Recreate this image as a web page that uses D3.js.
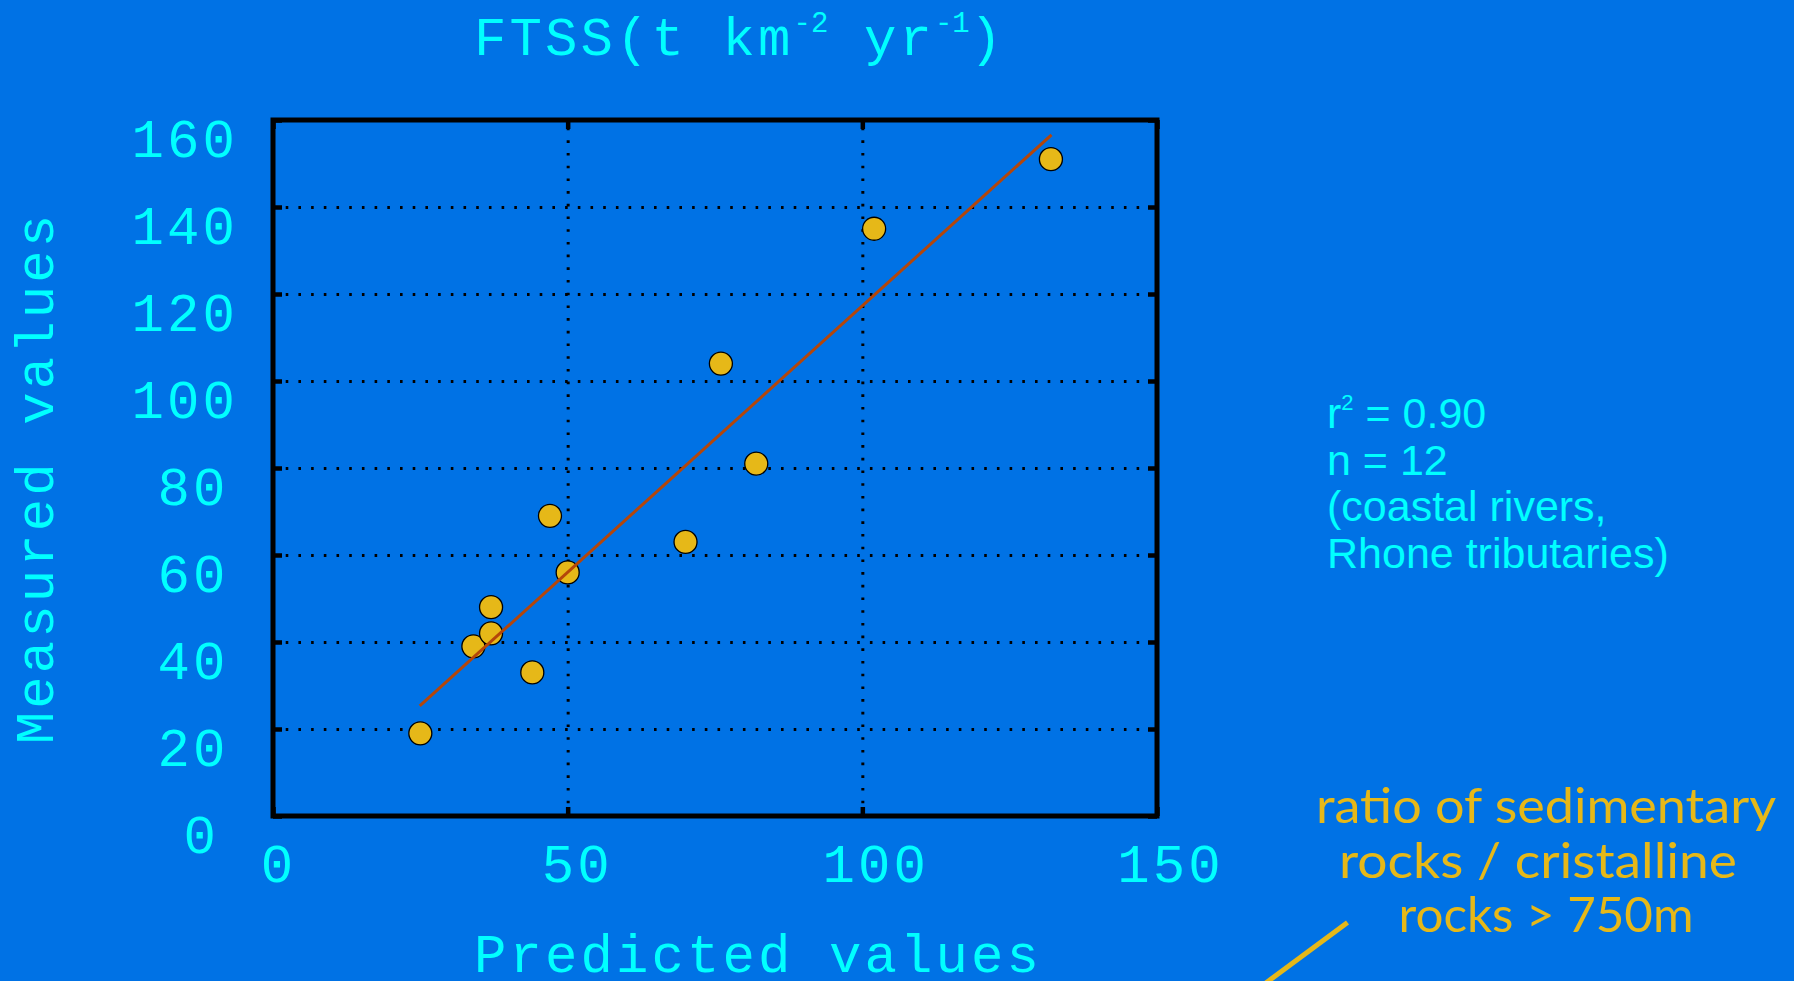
<!DOCTYPE html>
<html>
<head>
<meta charset="utf-8">
<script src="https://cdn.jsdelivr.net/npm/d3@7"></script>
<style>
html, body { margin: 0; padding: 0; background: #0072e5; overflow: hidden; }
svg { display: block; }
</style>
</head>
<body>
<svg width="1794" height="981"></svg>
<script>
// Values.

var predicted = [25, 34, 37, 37, 44, 47, 50, 70, 76, 82, 102, 132];
var measured  = [19, 39, 42, 48, 33, 69, 56, 63, 104, 81, 135, 151];
var fitX = [24.9, 132.1];
var fitY = [25.3, 156.6];
var xTicks = [0, 50, 100, 150];
var yTicks = [0, 20, 40, 60, 80, 100, 120, 140, 160];
var statLines = ['n = 12', '(coastal rivers,', 'Rhone tributaries)'];
var noteLines = ['ratio of sedimentary', 'rocks / cristalline', 'rocks > 750m'];
var noteWidths = [460, 398, 295];

var cyan = '#00ffff';
var gold = '#e6b818';
var mono = '"Liberation Mono", "Courier New", monospace';

// Select the SVG and set up the plot box.

var svg = d3.select('svg');
var margin = {top: 120, right: 637, bottom: 165, left: 273};
var width = svg.attr('width') - margin.left - margin.right;
var height = svg.attr('height') - margin.top - margin.bottom;
var graphic = svg.append('g').attr('transform', 'translate(' + margin.left + ',' + margin.top + ')');

var x = d3.scaleLinear().domain([0, 150]).range([0, width]);
var y = d3.scaleLinear().domain([0, 160]).range([height, 0]);

// Dotted grid.

var inner = function(v, i, a) { return i > 0 && i < a.length - 1; };

graphic.append('g')
 .attr('class', 'grid')
 .call(d3.axisLeft(y).tickValues(yTicks.filter(inner)).tickSize(-width).tickFormat(''));

graphic.append('g')
 .attr('class', 'grid')
 .attr('transform', 'translate(0,' + height + ')')
 .call(d3.axisBottom(x).tickValues(xTicks.filter(inner)).tickSize(-height).tickFormat(''));

graphic.selectAll('.grid .domain').remove();
graphic.selectAll('.grid line')
 .attr('stroke', '#000')
 .attr('stroke-width', 3)
 .attr('stroke-dasharray', '2.6,10.1');

// Points and the fitted line.

graphic.append('g')
 .selectAll('circle')
 .data(predicted)
 .enter().append('circle')
 .attr('cx', function(d) { return x(d); })
 .attr('cy', function(d, i) { return y(measured[i]); })
 .attr('r', 11.5)
 .attr('fill', gold)
 .attr('stroke', '#000')
 .attr('stroke-width', 1.3);

var line = d3.line()
 .x(function(d) { return x(d); })
 .y(function(d, i) { return y(fitY[i]); });

graphic.append('path')
 .attr('d', line(fitX))
 .attr('fill', 'none')
 .attr('stroke', '#b4460a')
 .attr('stroke-width', 3);

// Frame with inward ticks on all four sides.

graphic.append('rect')
 .attr('width', width)
 .attr('height', height)
 .attr('fill', 'none')
 .attr('stroke', '#000')
 .attr('stroke-width', 5);

var tickLen = -9;
graphic.append('g').attr('class', 'ticks')
 .call(d3.axisLeft(y).tickValues(yTicks).tickSize(tickLen).tickFormat(''));
graphic.append('g').attr('class', 'ticks')
 .attr('transform', 'translate(' + width + ',0)')
 .call(d3.axisRight(y).tickValues(yTicks).tickSize(tickLen).tickFormat(''));
graphic.append('g').attr('class', 'ticks')
 .attr('transform', 'translate(0,' + height + ')')
 .call(d3.axisBottom(x).tickValues(xTicks).tickSize(tickLen).tickFormat(''));
graphic.append('g').attr('class', 'ticks')
 .call(d3.axisTop(x).tickValues(xTicks).tickSize(tickLen).tickFormat(''));
graphic.selectAll('.ticks .domain').remove();
graphic.selectAll('.ticks line').attr('stroke', '#000').attr('stroke-width', 4.5);

// Tick labels.

var xAxis = graphic.append('g')
 .attr('class', 'labels')
 .attr('transform', 'translate(0,' + height + ')')
 .call(d3.axisBottom(x).tickValues(xTicks).tickSize(0).tickPadding(28));

xAxis.selectAll('text')
 .attr('dx', function(d) { return 1 + 4 * String(d).length; });

var yAxis = graphic.append('g')
 .attr('class', 'labels')
 .call(d3.axisLeft(y).tickValues(yTicks).tickSize(0).tickPadding(0));

yAxis.selectAll('text')
 .attr('x', function(d) { return 209.5 + 9.5 * String(d).length - margin.left; })
 .attr('dy', '0.68em');

graphic.selectAll('.labels .domain').remove();
graphic.selectAll('.labels text')
 .attr('fill', cyan)
 .style('font-family', mono)
 .style('font-size', '54px')
 .style('letter-spacing', '3.1px');

// Axis titles.

var title = svg.append('text')
 .attr('x', 474)
 .attr('y', 55)
 .attr('fill', cyan)
 .style('font-family', mono)
 .style('font-size', '54px')
 .style('letter-spacing', '3.1px');
title.append('tspan').text('FTSS(t km');
title.append('tspan').attr('dy', -23).style('font-size', '29px').style('letter-spacing', '0px').text('-2');
title.append('tspan').attr('dy', 23).text(' yr');
title.append('tspan').attr('dy', -23).style('font-size', '29px').style('letter-spacing', '0px').text('-1');
title.append('tspan').attr('dy', 23).text(')');

svg.append('text')
 .attr('transform', 'translate(53,478) rotate(-90)')
 .attr('text-anchor', 'middle')
 .attr('fill', cyan)
 .style('font-family', mono)
 .style('font-size', '54px')
 .style('letter-spacing', '3.1px')
 .text('Measured values');

svg.append('text')
 .attr('x', 758)
 .attr('y', 972)
 .attr('text-anchor', 'middle')
 .attr('fill', cyan)
 .style('font-family', mono)
 .style('font-size', '54px')
 .style('letter-spacing', '3.1px')
 .text('Predicted values');

// Statistics block.

var stats = svg.append('text')
 .attr('x', 1327)
 .attr('y', 428)
 .attr('fill', cyan)
 .style('font-family', '"Liberation Sans", Arial, sans-serif')
 .style('font-size', '43px');
stats.append('tspan').text('r');
stats.append('tspan').attr('dy', -18).style('font-size', '22px').text('2');
stats.append('tspan').attr('dy', 18).text(' = 0.90');
statLines.forEach(function(s) {
 stats.append('tspan').attr('x', 1327).attr('dy', 46.5).text(s);
});

// Note about rock ratio, with its pointer.

svg.append('g')
 .selectAll('text')
 .data(noteLines)
 .enter().append('text')
 .attr('x', function(d, i) { return i === 1 ? 1538 : 1546; })
 .attr('y', function(d, i) { return 823 + i * 54.5; })
 .attr('text-anchor', 'middle')
 .attr('textLength', function(d, i) { return noteWidths[i]; })
 .attr('lengthAdjust', 'spacingAndGlyphs')
 .attr('fill', gold)
 .style('font-family', '"Comic Sans MS", Lato, sans-serif')
 .style('font-size', '48px')
 .text(function(d) { return d; });

svg.append('line')
 .attr('x1', 1347.5).attr('y1', 922.5)
 .attr('x2', 1255).attr('y2', 991)
 .attr('stroke', gold)
 .attr('stroke-width', 5);
</script>
</body>
</html>
